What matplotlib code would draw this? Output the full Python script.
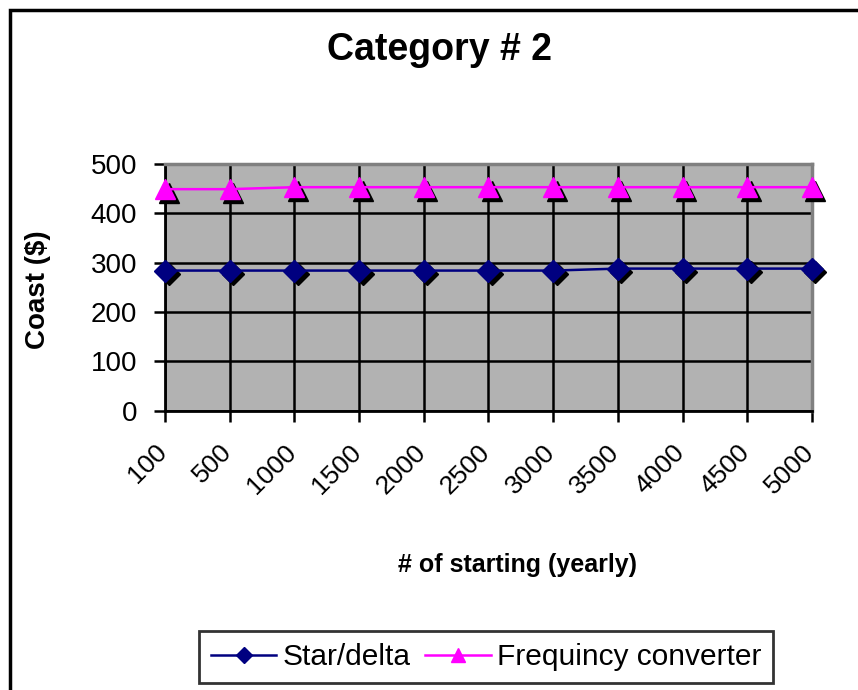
import matplotlib
matplotlib.use("Agg")
import matplotlib.pyplot as plt
import matplotlib.transforms as mtransforms
from matplotlib.patches import Rectangle
import numpy as np

# Data
starts = ["100", "500", "1000", "1500", "2000", "2500", "3000", "3500", "4000", "4500", "5000"]
star_delta = [284, 284, 284, 284, 284, 284, 284, 288, 288, 288, 288]
freq_conv = [449, 449, 453, 453, 453, 453, 453, 453, 453, 453, 453]
yticks = [0, 100, 200, 300, 400, 500]

plt.rcParams["font.family"] = ["Liberation Sans", "DejaVu Sans"]

W, H = 858, 690
fig = plt.figure(figsize=(W / 100, H / 100), dpi=100)
fig.patch.set_facecolor("white")

# Outer chart frame
fig.patches.append(Rectangle((10 / W, -0.05), 1.2, (H - 10) / H + 0.05,
                             transform=fig.transFigure, fill=False,
                             edgecolor="black", linewidth=2.5))

L, R, T, B = 165, 812, 164, 410.7
ax = fig.add_axes([L / W, (H - B) / H, (R - L) / W, (B - T) / H])
ax.set_facecolor("#b2b2b2")

x = np.arange(len(starts))

# Marker shadows
shadow = mtransforms.offset_copy(ax.transData, fig=fig, x=3.5, y=-3.5, units="dots")
ax.plot(x, star_delta, linestyle="none", marker="D", markersize=11,
        color="black", transform=shadow, zorder=3, clip_on=False)
ax.plot(x, freq_conv, linestyle="none", marker="^", markersize=14,
        color="black", transform=shadow, zorder=3, clip_on=False)

ax.plot(x, star_delta, color="#000080", linewidth=1.8, marker="D", markersize=11,
        label="Star/delta", zorder=4, clip_on=False)
ax.plot(x, freq_conv, color="#ff00ff", linewidth=1.8, marker="^", markersize=14,
        label="Frequincy converter", zorder=4, clip_on=False)

ax.set_xlim(0, len(starts) - 1)
ax.set_ylim(0, 500)
ax.set_yticks(yticks)
ax.set_xticks(x)
ax.set_xticklabels(starts, rotation=45, ha="right", va="center", rotation_mode="anchor")
ax.grid(True, color="black", linewidth=1.8)
ax.set_axisbelow(True)

ax.tick_params(axis="both", direction="out", length=8, width=1.8, color="black",
               labelsize=20)
ax.tick_params(axis="x", labelsize=19, pad=19)
ax.tick_params(axis="y", pad=12)

shift = mtransforms.ScaledTranslation(-2 / 100, 0, fig.dpi_scale_trans)
for lab in ax.get_xticklabels():
    lab.set_transform(lab.get_transform() + shift)

for s in ("left", "bottom"):
    ax.spines[s].set_color("black")
    ax.spines[s].set_linewidth(2)
for s in ("top", "right"):
    ax.spines[s].set_color("#808080")
    ax.spines[s].set_linewidth(2.5)

fig.text(439 / W, 1 - 50 / H, "Category # 2", ha="center", va="center",
         fontsize=27, fontweight="bold")
fig.text(38 / W, 1 - 290 / H, "Coast ($)", ha="center", va="center",
         rotation=90, fontsize=20, fontweight="bold")
fig.text(518 / W, 1 - 565 / H, "# of starting (yearly)", ha="center", va="center",
         fontsize=18, fontweight="bold")

leg = fig.legend(loc="center", bbox_to_anchor=(486 / W, 1 - 657 / H), ncol=2,
                 fontsize=21.5, frameon=True, fancybox=False, edgecolor="black",
                 handlelength=2.2, handletextpad=0.2, columnspacing=0.5,
                 borderpad=0.4, markerscale=0.75)
leg.get_frame().set_linewidth(2)

fig.savefig("out.png", dpi=100)
